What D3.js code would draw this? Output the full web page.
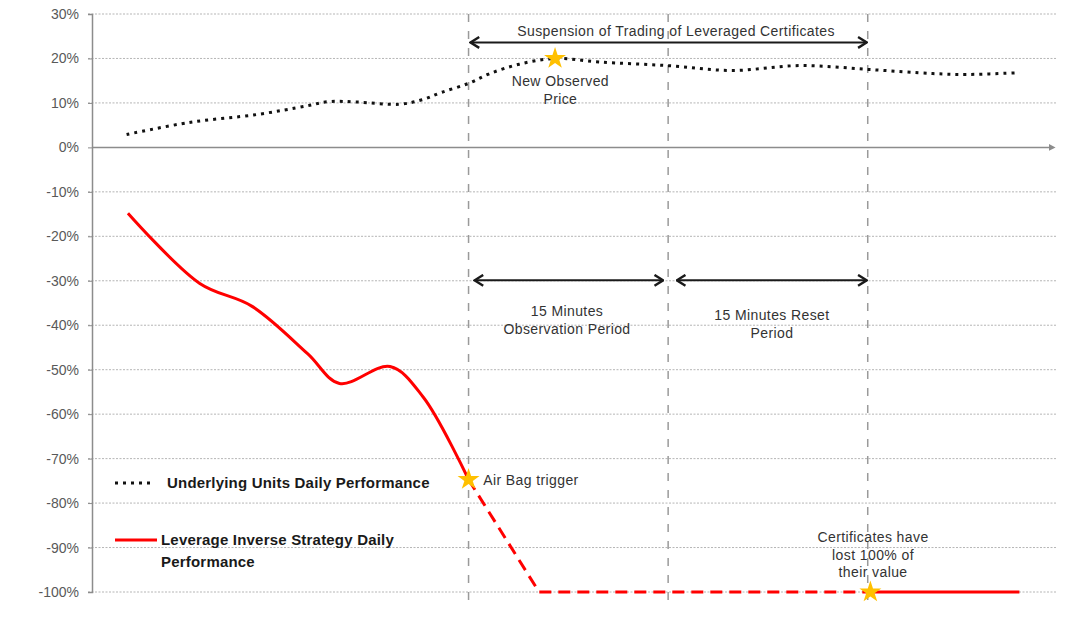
<!DOCTYPE html>
<html lang="en">
<head>
<meta charset="UTF-8">
<title>Air Bag trigger - leveraged certificates</title>
<script src="https://d3js.org/d3.v7.min.js"></script>
<style>
    body { margin: 0; background: #fff; }
    svg { display: block; font-family: "Liberation Sans", Arial, sans-serif; }
    .tick text { fill: #595959; font-size: 14px; }
    .note { fill: #333; font-size: 14px; letter-spacing: 0.4px; }
    .legend { fill: #1a1a1a; font-size: 15px; font-weight: bold; letter-spacing: 0.2px; }
</style>
</head>
<body>
<div id="chart"></div>
<script>
// time in minutes relative to the Air Bag trigger, values in %
const underlyingT = [-25.7, -21.0, -15.9, -12.2, -10.5, -8.4, -5.2, -3.5, -2.0, 0, 1.6, 3.8, 6.5, 9.8, 14.9, 19.8, 24.9, 30.2, 34.9, 37.4, 41.4];
const underlyingV = [2.9, 5.6, 7.4, 9.3, 10.3, 10.2, 9.7, 10.7, 12.4, 14.4, 16.6, 18.7, 20.0, 19.2, 18.4, 17.3, 18.4, 17.5, 16.6, 16.4, 16.8];

const strategyT = [-25.6, -20.2, -16.3, -12.1, -9.7, -5.9, -3.4, 0];
const strategyV = [-14.8, -30.6, -35.7, -46.4, -53.1, -49.3, -56.2, -74.7];

const suspendedT = [0, 5.3, 30];
const suspendedV = [-74.7, -100, -100];

const lostT = [30, 41.4];
const lostV = [-100, -100];

const eventTimes = [0, 15, 30];
const yTicks = d3.range(-100, 31, 10);

const stars = [
    { t: 6.5, v: 20.0 },
    { t: 0, v: -74.7 },
    { t: 30.2, v: -100 }
];

const spans = [
    { t0: 0, t1: 30, v: 23.6 },
    { t0: 0.3, t1: 14.7, v: -29.9 },
    { t0: 15.5, t1: 30, v: -29.9 }
];

const notes = [
    { t: 15.6, v: 25.0, anchor: "middle", lines: ["Suspension of Trading of Leveraged Certificates"] },
    { t: 6.9, v: 13.7, anchor: "middle", lines: ["New Observed", "Price"] },
    { t: 7.4, v: -38.0, anchor: "middle", lines: ["15 Minutes", "Observation Period"] },
    { t: 22.8, v: -38.9, anchor: "middle", lines: ["15 Minutes Reset", "Period"] },
    { t: 30.4, v: -88.8, anchor: "middle", lines: ["Certificates have", "lost 100% of", "their value"] },
    { t: 1.1, v: -75.9, anchor: "start", lines: ["Air Bag trigger"] }
];

const width = 1091, height = 621;

const svg = d3.select("#chart").append("svg")
    .attr("width", width)
    .attr("height", height);

const x = d3.scaleLinear().domain([-28.3, 44.3]).range([92, 1058]);
const y = d3.scaleLinear().domain([-100, 30]).range([592, 14]);

const defs = svg.append("defs");
defs.append("marker")
    .attr("id", "axis-head")
    .attr("viewBox", "0 0 10 10")
    .attr("refX", 2).attr("refY", 5)
    .attr("markerWidth", 7).attr("markerHeight", 7)
    .attr("markerUnits", "userSpaceOnUse")
    .attr("orient", "auto")
    .append("path").attr("d", "M0,0L10,5L0,10Z").attr("fill", "#8c8c8c");
defs.append("marker")
    .attr("id", "chevron")
    .attr("viewBox", "0 0 12 12")
    .attr("refX", 11).attr("refY", 6)
    .attr("markerWidth", 13).attr("markerHeight", 13)
    .attr("markerUnits", "userSpaceOnUse")
    .attr("orient", "auto-start-reverse")
    .append("path").attr("d", "M3,1L11,6L3,11")
    .attr("fill", "none").attr("stroke", "#1a1a1a").attr("stroke-width", 2.2);

// gridlines
svg.append("g")
    .selectAll("line")
    .data(yTicks.filter(d => d !== 0))
    .join("line")
    .attr("x1", 88).attr("x2", 1057)
    .attr("y1", d => y(d)).attr("y2", d => y(d))
    .attr("stroke", "#b5b5b5")
    .attr("stroke-width", 1)
    .attr("stroke-dasharray", "2,1.5");

// y axis
const yAxis = svg.append("g")
    .attr("transform", `translate(${x.range()[0]},0)`)
    .call(d3.axisLeft(y).tickValues(yTicks).tickFormat(d => d + "%").tickSize(4).tickPadding(9));
yAxis.select(".domain").attr("stroke", "#8c8c8c").attr("stroke-width", 1.5);
yAxis.selectAll(".tick line").attr("stroke", "#8c8c8c");

// x axis at 0% with arrow head
svg.append("line")
    .attr("x1", x.range()[0]).attr("x2", x.range()[1] - 8)
    .attr("y1", y(0)).attr("y2", y(0))
    .attr("stroke", "#8c8c8c")
    .attr("stroke-width", 1.5)
    .attr("marker-end", "url(#axis-head)");

// event lines
svg.append("g")
    .selectAll("line")
    .data(eventTimes)
    .join("line")
    .attr("x1", d => x(d)).attr("x2", d => x(d))
    .attr("y1", y(30)).attr("y2", y(-100) + 9)
    .attr("stroke", "#9a9a9a")
    .attr("stroke-width", 1.5)
    .attr("stroke-dasharray", "8,9");

const toPts = (ts, vs) => ts.map((t, i) => [t, vs[i]]);
const smooth = d3.line().x(d => x(d[0])).y(d => y(d[1])).curve(d3.curveCatmullRom.alpha(0.5));
const straight = d3.line().x(d => x(d[0])).y(d => y(d[1]));

svg.append("path")
    .attr("d", smooth(toPts(underlyingT, underlyingV)))
    .attr("fill", "none")
    .attr("stroke", "#111")
    .attr("stroke-width", 3)
    .attr("stroke-dasharray", "3,5");

svg.append("path")
    .attr("d", smooth(toPts(strategyT, strategyV)))
    .attr("fill", "none")
    .attr("stroke", "#ff0000")
    .attr("stroke-width", 3);

svg.append("path")
    .attr("d", straight(toPts(suspendedT, suspendedV)))
    .attr("fill", "none")
    .attr("stroke", "#ff0000")
    .attr("stroke-width", 3)
    .attr("stroke-dasharray", "12,7");

svg.append("path")
    .attr("d", straight(toPts(lostT, lostV)))
    .attr("fill", "none")
    .attr("stroke", "#ff0000")
    .attr("stroke-width", 3);

// double arrows
svg.append("g")
    .selectAll("line")
    .data(spans)
    .join("line")
    .attr("x1", d => x(d.t0) + 2).attr("x2", d => x(d.t1) - 1)
    .attr("y1", d => y(d.v)).attr("y2", d => y(d.v))
    .attr("stroke", "#1a1a1a")
    .attr("stroke-width", 2)
    .attr("marker-start", "url(#chevron)")
    .attr("marker-end", "url(#chevron)");

// stars
svg.append("g")
    .selectAll("path")
    .data(stars)
    .join("path")
    .attr("transform", d => `translate(${x(d.t)},${y(d.v)})`)
    .attr("d", d3.symbol(d3.symbolStar, 150))
    .attr("fill", "#ffc000");

// notes
const note = svg.append("g")
    .selectAll("text")
    .data(notes)
    .join("text")
    .attr("class", "note")
    .attr("text-anchor", d => d.anchor)
    .attr("x", d => x(d.t))
    .attr("y", d => y(d.v));
note.selectAll("tspan")
    .data(d => d.lines.map(l => ({ l, t: d.t })))
    .join("tspan")
    .attr("x", d => x(d.t))
    .attr("dy", (d, i) => i === 0 ? 0 : 17.5)
    .text(d => d.l);

// legend
const legend = svg.append("g").attr("transform", "translate(115,483)");
legend.append("line")
    .attr("x1", 0).attr("x2", 36).attr("y1", 0).attr("y2", 0)
    .attr("stroke", "#111").attr("stroke-width", 3).attr("stroke-dasharray", "3,5");
legend.append("text").attr("class", "legend")
    .attr("x", 52).attr("y", 5).text("Underlying Units Daily Performance");
legend.append("line")
    .attr("x1", 0).attr("x2", 42).attr("y1", 57).attr("y2", 57)
    .attr("stroke", "#ff0000").attr("stroke-width", 3);
legend.append("text").attr("class", "legend")
    .attr("x", 46).attr("y", 62).text("Leverage Inverse Strategy Daily");
legend.append("text").attr("class", "legend")
    .attr("x", 46).attr("y", 84).text("Performance");
</script>
</body>
</html>
